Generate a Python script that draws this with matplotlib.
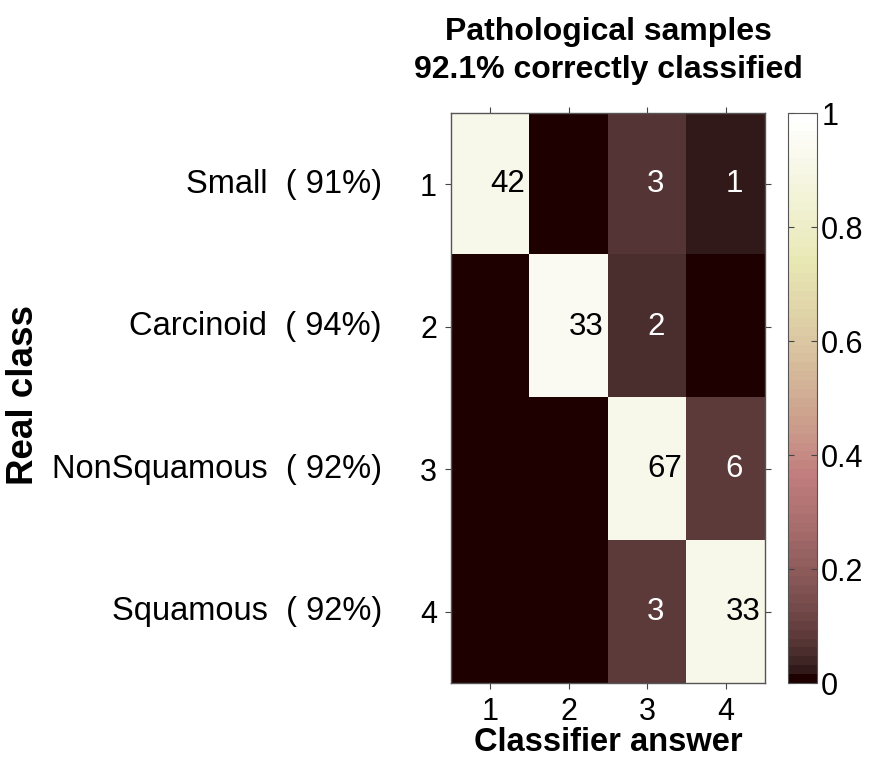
import numpy as np
import matplotlib
matplotlib.use("Agg")
import matplotlib.pyplot as plt
from matplotlib import transforms
from matplotlib.colors import ListedColormap

plt.rcParams['font.family'] = ['Liberation Sans', 'DejaVu Sans']

class_names = ["Small", "Carcinoid", "NonSquamous", "Squamous"]
class_ids = [1, 2, 3, 4]
counts = np.array([
    [42, 0, 3, 1],
    [0, 33, 2, 0],
    [0, 0, 67, 6],
    [0, 0, 3, 33],
])
title_line1 = "Pathological samples"
xlabel = "Classifier answer"
ylabel = "Real class"
cbar_ticks = [0, 0.2, 0.4, 0.6, 0.8, 1]
cbar_ticklabels = ["0", "0.2", "0.4", "0.6", "0.8", "1"]

norm_mat = counts / counts.sum(axis=1, keepdims=True)
row_pct = np.diag(counts) / counts.sum(axis=1) * 100
total_pct = np.trace(counts) / counts.sum() * 100

fig = plt.figure(figsize=(8.69, 7.63), dpi=100)
ax = fig.add_axes([0.519, 0.1048, 0.3613, 0.7471])
cax = fig.add_axes([0.9068, 0.1048, 0.0334, 0.7471])

cmap = ListedColormap(plt.get_cmap('pink')(np.linspace(0, 1, 64)))
im = ax.imshow(norm_mat, cmap=cmap, vmin=0, vmax=1, aspect='auto',
               extent=(0.5, 4.5, 4.5, 0.5), interpolation='nearest')

for i in range(4):
    for j in range(4):
        c = counts[i, j]
        if c == 0:
            continue
        col = 'black' if norm_mat[i, j] > 0.5 else 'white'
        ax.text(j + 1, i + 1, str(c), ha='left', va='center',
                fontsize=22.5, color=col)

ax.set_xticks(class_ids)
ax.set_yticks(class_ids)
ax.set_xticklabels([str(k) for k in class_ids], fontsize=22)
ax.set_yticklabels([str(k) for k in class_ids], fontsize=22)
ax.tick_params(direction='out', length=4, width=0.8, color='#444444',
               top=True, right=True, pad=6)
for s in ax.spines.values():
    s.set_color('#555555')
    s.set_linewidth(1.0)

trans = transforms.blended_transform_factory(ax.transAxes, ax.transData)
for k, name in enumerate(class_names):
    ax.text(-0.22, k + 1, f"{name}  ( {row_pct[k]:.0f}%)", transform=trans,
            ha='right', va='center', fontsize=23.5)

ax.set_xlabel(xlabel, fontsize=23.5, fontweight='bold', labelpad=0)
fig.text(0.027, 0.482, ylabel, rotation=90, ha='center', va='center',
         fontsize=26.5, fontweight='bold')
ax.set_title(f"{title_line1}\n{total_pct:.1f}% correctly classified",
             fontsize=23, fontweight='bold', pad=25, linespacing=1.35)

cb = fig.colorbar(im, cax=cax, ticks=cbar_ticks)
cb.ax.set_yticklabels(cbar_ticklabels, fontsize=22)
cb.ax.tick_params(direction='in', length=4, width=0.8, color='#444444',
                  left=True, right=True, pad=3)
cb.outline.set_edgecolor('#555555')

fig.savefig("out.png", dpi=100)
